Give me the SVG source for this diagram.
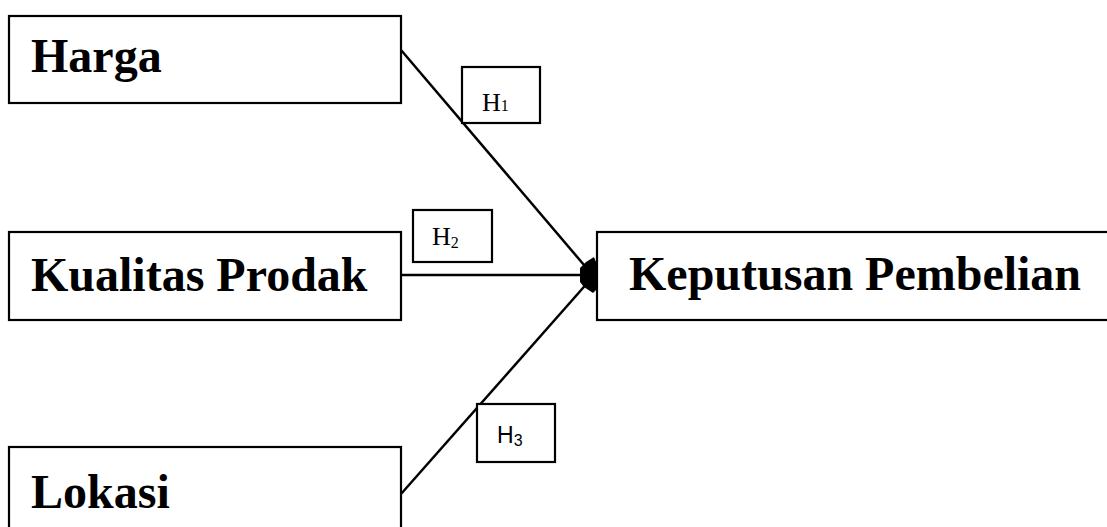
<svg xmlns="http://www.w3.org/2000/svg" width="1107" height="527" viewBox="0 0 1107 527">
<style>
.box{fill:#fff;stroke:#000;stroke-width:2.2}
.big{font-family:"Liberation Serif","Times New Roman",serif;font-weight:bold;font-size:48px;fill:#000}
.h{font-family:"Liberation Serif","Times New Roman",serif;font-size:26px;fill:#000}
.hs{font-family:"Liberation Sans",Arial,sans-serif;font-size:23px;fill:#000}
.sub{font-size:16px}
.con{stroke:#000;stroke-width:2.5;fill:none}
</style>
<rect width="1107" height="527" fill="#fff"/>
<g id="connectors">
<line class="con" x1="401" y1="50" x2="590" y2="272"/>
<line class="con" x1="401" y1="275" x2="590" y2="275"/>
<line class="con" x1="401" y1="494" x2="590" y2="280"/>
<polygon points="580,268 586,262 594,257 596,262 596,290 593,293 584,287 580,282" fill="#000"/>
</g>
<g id="harga">
<rect class="box" x="9" y="16" width="392" height="87"/>
<text class="big" x="31" y="72">Harga</text>
</g>
<g id="kualitas">
<rect class="box" x="9" y="232" width="392" height="88"/>
<text class="big" x="31" y="291">Kualitas Prodak</text>
</g>
<g id="lokasi">
<rect class="box" x="9" y="447" width="392" height="90"/>
<text class="big" x="31" y="508">Lokasi</text>
</g>
<g id="keputusan">
<rect class="box" x="597" y="232" width="520" height="88"/>
<text class="big" x="629" y="290">Keputusan Pembelian</text>
</g>
<g id="h1">
<rect class="box" x="462" y="67" width="78" height="56"/>
<text class="h" x="482" y="111">H<tspan class="sub">1</tspan></text>
</g>
<g id="h2">
<rect class="box" x="413" y="210" width="79" height="52"/>
<text class="h" x="432" y="245">H<tspan class="sub" dy="3">2</tspan></text>
</g>
<g id="h3">
<rect class="box" x="477" y="404" width="78" height="58"/>
<text class="hs" x="497" y="443">H<tspan class="sub" dy="3">3</tspan></text>
</g>
</svg>
